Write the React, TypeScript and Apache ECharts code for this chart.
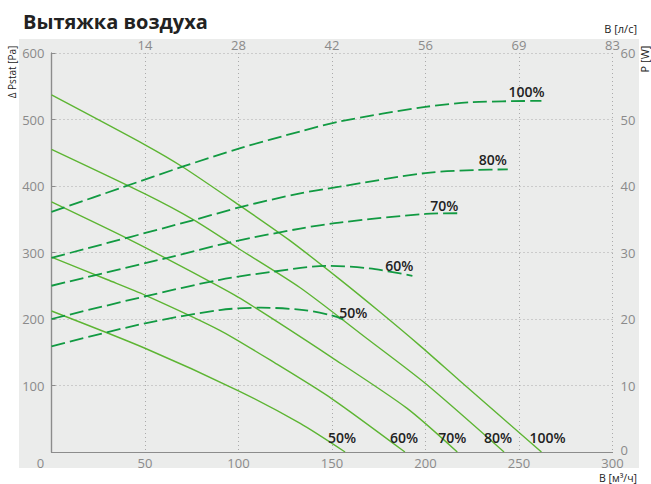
import React, { useEffect, useRef } from 'react';
import * as echarts from 'echarts';

// Flow axis ticks (m³/h) and top tick labels (l/s)
const flowTicks = [0, 50, 100, 150, 200, 250, 300];
const flowTopLabels = ['', '14', '28', '42', '56', '69', '83'];

// Pressure curves (Δ Pstat, Pa) vs flow (m³/h)
const pFlow100 = [0, 50, 70, 100, 127, 154, 175, 197, 218, 262];
const pVal100 = [537, 462, 429, 372, 319, 260, 212, 160, 108, 0];
const pFlow80 = [0, 50, 76, 100, 133, 169, 200, 242];
const pVal80 = [455, 388, 349, 306, 247, 170, 103, 0];
const pFlow70 = [0, 42, 83, 101, 150, 190, 217];
const pVal70 = [376, 319, 259, 231, 142, 66, 0];
const pFlow60 = [0, 30, 50, 90, 120, 150, 189];
const pVal60 = [293, 259, 236, 183, 133, 80, 0];
const pFlow50 = [0, 50, 100, 133, 157];
const pVal50 = [212, 156, 92, 43, 0];

// Power curves (P, W) vs flow (m³/h)
const wFlow100 = [0, 39, 70, 101, 133, 154, 200, 225, 262];
const wVal100 = [36.1, 39.9, 42.9, 45.7, 48.2, 49.7, 51.9, 52.6, 52.8];
const wFlow80 = [0, 75, 102, 133, 154, 200, 227, 244];
const wVal80 = [29.2, 34.8, 36.9, 38.9, 39.9, 41.95, 42.4, 42.5];
const wFlow70 = [0, 62, 95, 133, 154, 200, 217];
const wVal70 = [25.0, 29.2, 31.5, 33.6, 34.5, 35.8, 35.9];
const wFlow60 = [0, 50, 90, 118, 147, 170, 193];
const wVal60 = [20.0, 23.4, 25.9, 27.1, 28.0, 27.6, 26.5];
const wFlow50 = [0, 50, 90, 112, 135, 149, 156];
const wVal50 = [15.9, 19.35, 21.35, 21.7, 21.35, 20.6, 19.95];

const speedNames = ['100%', '80%', '70%', '60%', '50%'];

const FONT = 'Open Sans';
const SOLID = '#5db533';
const DASHED = '#119a42';
const LABEL_COLOR = '#222';

function build(xs: number[], ys: number[], label: any) {
  return xs.map((x, i) =>
    i === xs.length - 1 ? { value: [x, ys[i]], label } : [x, ys[i]]
  );
}

const labelBase = {
  show: true,
  color: LABEL_COLOR,
  fontSize: 14,
  fontWeight: 600,
  fontFamily: FONT,
  position: 'top',
};

const pressureSets = [
  [pFlow100, pVal100],
  [pFlow80, pVal80],
  [pFlow70, pVal70],
  [pFlow60, pVal60],
  [pFlow50, pVal50],
];
const powerSets = [
  [wFlow100, wVal100],
  [wFlow80, wVal80],
  [wFlow70, wVal70],
  [wFlow60, wVal60],
  [wFlow50, wVal50],
];
const pressureLabelOffsets = [
  [6, 0],
  [-6, 0],
  [-5, 0],
  [-1, 0],
  [-3, 0],
];
const powerLabelOffsets = [
  [-15, 0],
  [-15, -1],
  [-13, 1],
  [-13, -1],
  [10, 2],
];

export default function App() {
  const ref = useRef<HTMLDivElement>(null);

  useEffect(() => {
    document.body.style.margin = '0';
    const chart = echarts.init(ref.current as HTMLDivElement, null, { renderer: 'svg' });

    const series: any[] = [];
    pressureSets.forEach(([xs, ys], i) => {
      series.push({
        type: 'line',
        name: 'P ' + speedNames[i],
        xAxisIndex: 0,
        yAxisIndex: 0,
        smooth: 0.25,
        symbol: 'circle',
        symbolSize: 0,
        showSymbol: true,
        lineStyle: { color: SOLID, width: 1.4 },
        itemStyle: { color: SOLID },
        label: { show: false },
        data: build(xs, ys, {
          ...labelBase,
          distance: 8,
          offset: pressureLabelOffsets[i],
          formatter: speedNames[i],
        }),
        z: 2,
      });
    });
    powerSets.forEach(([xs, ys], i) => {
      series.push({
        type: 'line',
        name: 'W ' + speedNames[i],
        xAxisIndex: 0,
        yAxisIndex: 1,
        smooth: 0.3,
        symbol: 'circle',
        symbolSize: 0,
        showSymbol: true,
        lineStyle: { color: DASHED, width: 1.8, type: [14, 5] },
        itemStyle: { color: DASHED },
        label: { show: false },
        data: build(xs, ys, {
          ...labelBase,
          distance: 2,
          offset: powerLabelOffsets[i],
          formatter: speedNames[i],
        }),
        z: 3,
      });
    });

    const axisLabelStyle = { color: '#8a8a8a', fontSize: 13, fontFamily: FONT };
    const axisLineStyle = { show: true, lineStyle: { color: '#8c8c8c', width: 1.2 } };
    const gridLine = { show: true, lineStyle: { color: '#aaaaaa', type: [1, 3], width: 1 } };

    chart.setOption({
      animation: false,
      title: {
        text: 'Вытяжка воздуха',
        left: 18,
        top: 6,
        textStyle: { fontSize: 20, fontWeight: 'bold', color: '#222', fontFamily: FONT },
      },
      grid: { left: 51.5, right: 38.5, top: 53, bottom: 32 },
      graphic: [
        {
          type: 'rect',
          z: -100,
          silent: true,
          shape: { x: 19, y: 39, width: 620, height: 429 },
          style: { fill: '#ebeceb' },
        },
        {
          type: 'text',
          x: 637,
          y: 477.5,
          style: { text: 'В [м³/ч]', align: 'right', verticalAlign: 'middle', fontSize: 10.5, fill: '#222', fontFamily: FONT },
        },
        {
          type: 'text',
          x: 637,
          y: 28,
          style: { text: 'В [л/с]', align: 'right', verticalAlign: 'middle', fontSize: 11, fill: '#222', fontFamily: FONT },
        },
        {
          type: 'text',
          x: 644,
          y: 59,
          rotation: Math.PI / 2,
          style: { text: 'P [W]', align: 'center', verticalAlign: 'middle', fontSize: 11, fill: '#222', fontFamily: FONT },
        },
        {
          type: 'text',
          x: 12,
          y: 72,
          rotation: Math.PI / 2,
          style: { text: 'Δ Pstat [Pa]', align: 'center', verticalAlign: 'middle', fontSize: 10, fill: '#222', fontFamily: FONT },
        },
      ],
      xAxis: [
        {
          type: 'value',
          position: 'bottom',
          min: flowTicks[0],
          max: flowTicks[flowTicks.length - 1],
          interval: 50,
          axisLine: axisLineStyle,
          axisTick: { show: false },
          splitLine: gridLine,
          axisLabel: {
            ...axisLabelStyle,
            margin: 4,
            formatter: (v: number) => (v === 0 ? '{z|0}' : String(v)),
            rich: { z: { ...axisLabelStyle, padding: [0, 22, 0, 0] } },
          },
        },
        {
          type: 'value',
          position: 'top',
          min: flowTicks[0],
          max: flowTicks[flowTicks.length - 1],
          interval: 50,
          axisLine: axisLineStyle,
          axisTick: { show: false },
          splitLine: { show: false },
          axisLabel: {
            ...axisLabelStyle,
            margin: 2,
            formatter: (v: number) => flowTopLabels[flowTicks.indexOf(v)] ?? '',
          },
        },
      ],
      yAxis: [
        {
          type: 'value',
          min: 0,
          max: 600,
          interval: 100,
          axisLine: axisLineStyle,
          axisTick: { show: false },
          splitLine: gridLine,
          axisLabel: { ...axisLabelStyle, margin: 7, showMinLabel: false },
        },
        {
          type: 'value',
          position: 'right',
          min: 0,
          max: 60,
          interval: 10,
          axisLine: axisLineStyle,
          axisTick: { show: true, length: 4, lineStyle: { color: '#8c8c8c' } },
          splitLine: { show: false },
          axisLabel: {
            ...axisLabelStyle,
            margin: 8,
            formatter: (v: number) => (v === 0 ? '{z|0}' : String(v)),
            rich: { z: { ...axisLabelStyle, padding: [0, 0, 5, 0] } },
          },
        },
      ],
      series,
    });

    return () => chart.dispose();
  }, []);

  return <div ref={ref} style={{ width: 651, height: 484 }} />;
}
